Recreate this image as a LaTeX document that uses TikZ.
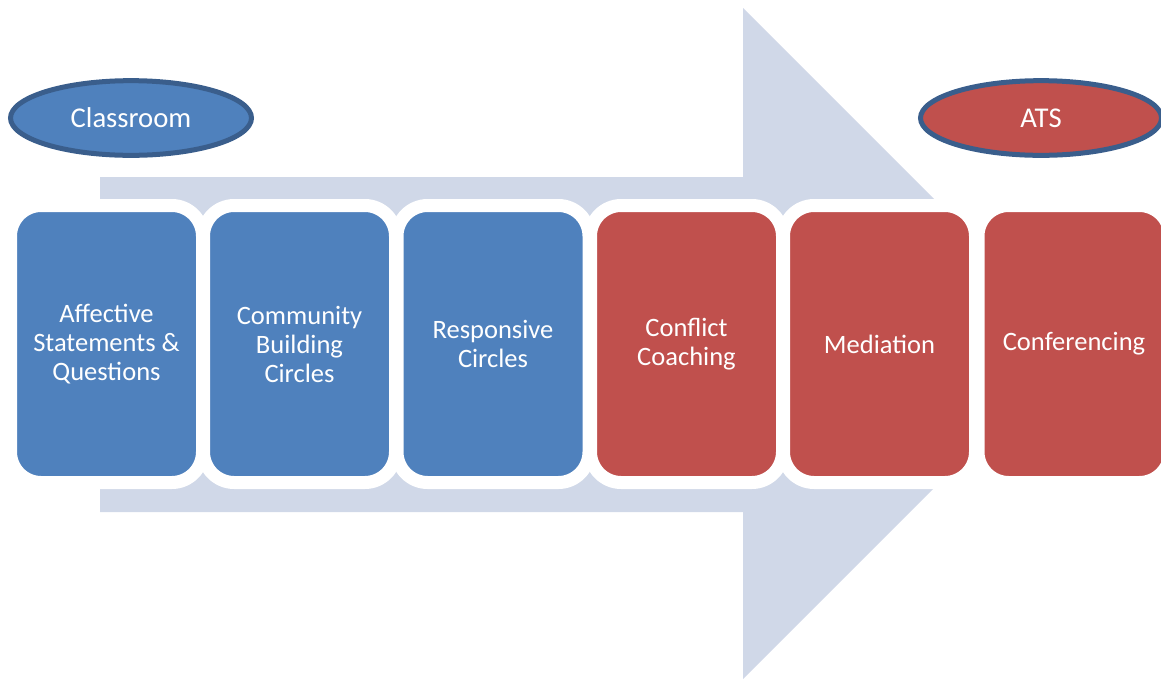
\documentclass[tikz,border=0pt]{standalone}
\usepackage{fontspec}
\setmainfont{Carlito}
\usetikzlibrary{shapes.geometric}
\definecolor{stepblue}{HTML}{4F81BD}
\definecolor{stepred}{HTML}{C0504D}
\definecolor{rimblue}{HTML}{3A5E8C}
\definecolor{arrowgrey}{HTML}{D0D8E8}
\begin{document}
\begin{tikzpicture}[x=0.75pt,y=-0.75pt,
  stage/.style={draw=white,line width=9.75pt,rounded corners=23pt,minimum width=144pt,minimum height=207.75pt,
    inner sep=0pt,align=center,text=white,font=\fontsize{19.9}{21.75}\selectfont},
  place/.style={ellipse,draw=rimblue,line width=3.75pt,minimum width=180.75pt,minimum height=56pt,
    inner sep=0pt,text=white,font=\fontsize{21.5}{24}\selectfont}]
\useasboundingbox (0,0) rectangle (1161,679);
% big arrow behind the steps
\fill [arrowgrey] (100,177) -- (743,177) -- (743,8) -- (1078.5,343.5) -- (743,679) -- (743,512) -- (100,512) -- cycle;
% steps
\node (affective) at (106.5,344) [stage,fill=stepblue] {Affective\\Statements \&\\Questions};
\node (community) at (299.5,344) [stage,fill=stepblue] {Community\\Building\\Circles};
\node (responsive) at (493,344) [stage,fill=stepblue] {Responsive\\Circles};
\node (coaching) at (686.5,344) [stage,fill=stepred] {Conflict\\Coaching};
\node (mediation) at (879.5,344) [stage,fill=stepred] {Mediation};
\node (conferencing) at (1074,344) [stage,fill=stepred] {Conferencing};
% settings
\node (classroom) at (131,118) [place,fill=stepblue] {Classroom};
\node (ats) at (1041,118) [place,fill=stepred] {ATS};
\end{tikzpicture}
\end{document}
